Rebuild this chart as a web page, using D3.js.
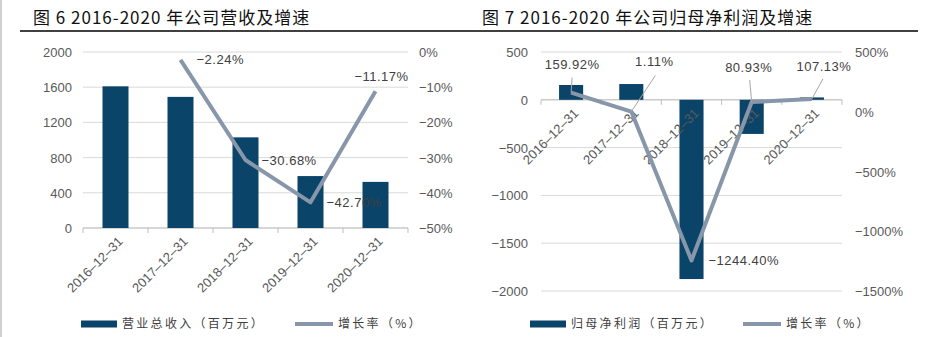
<!DOCTYPE html>
<html><head><meta charset="utf-8">
<script src="https://cdn.jsdelivr.net/npm/d3@7"></script>
<style>
body{margin:0;background:#fff;}
svg{display:block;}
.tick text{font-family:"Liberation Sans",Arial,sans-serif;}
</style></head>
<body>
<svg id="c" width="929" height="337"></svg>
<script>
// ---------- DATA ----------
const categories = ["2016-12-31","2017-12-31","2018-12-31","2019-12-31","2020-12-31"];
// Chart 1: revenue (百万元) and growth (%)
const revenue = [1610, 1490, 1030, 590, 524];
const revenueGrowth = [null, -2.24, -30.68, -42.70, -11.17];
const revLeftTicks = [0, 400, 800, 1200, 1600, 2000];
const revRightTicks = [0, -10, -20, -30, -40, -50];
// Chart 2: net profit (百万元) and growth (%)
const profit = [155, 165, -1875, -357, 25];
const profitGrowth = [159.92, 1.11, -1244.40, 80.93, 107.13];
const profLeftTicks = [500, 0, -500, -1000, -1500, -2000];
const profRightTicks = [500, 0, -500, -1000, -1500];

const titles = ["图 6 2016-2020 年公司营收及增速", "图 7 2016-2020 年公司归母净利润及增速"];
const barLegend = ["营业总收入（百万元）", "归母净利润（百万元）"];
const lineLegend = "增长率（%）";

// ---------- STYLE ----------
const BAR = "#0A4469", LINE = "#8796A9", GRID = "#D9D9D9", AXIS = "#BFBFBF", TXT = "#595959", LBL = "#404040";
const svg = d3.select("#c");
svg.append("rect").attr("width",929).attr("height",337).attr("fill","#fff");
svg.append("rect").attr("x",0).attr("y",0).attr("width",2).attr("height",337).attr("fill","#D0D0D0");
svg.append("line").attr("x1",20).attr("x2",918).attr("y1",31).attr("y2",31).attr("stroke","#000").attr("stroke-width",1.5);

function fmt(v){ return v.toFixed(2) + "%"; }

function drawChart(o){
  const g = svg.append("g");
  g.append("text").attr("x",o.titleX).attr("y",24).attr("font-family","'Noto Sans CJK SC',sans-serif")
    .attr("font-size",17).attr("letter-spacing",1).attr("fill","#111").text(o.title);

  const x = d3.scaleBand().domain(categories).range(o.xRange).paddingInner(0.6).paddingOuter(0.3);
  const yL = d3.scaleLinear().domain(o.leftDomain).range(o.yRange);
  const yR = d3.scaleLinear().domain(o.rightDomain).range(o.yRange);

  // grid
  g.append("g").selectAll("line").data(o.leftTicks).join("line")
    .attr("x1",o.xRange[0]).attr("x2",o.xRange[1])
    .attr("y1",d=>yL(d)).attr("y2",d=>yL(d)).attr("stroke",GRID).attr("stroke-width",1);

  // left axis
  const la = g.append("g").attr("transform",`translate(${o.leftLabelX},0)`)
    .call(d3.axisLeft(yL).tickValues(o.leftTicks).tickSize(0).tickPadding(0).tickFormat(d3.format("d")));
  la.select(".domain").remove();
  la.selectAll("text").attr("font-size",13).attr("fill",TXT).attr("dy","0.35em").text(d=>String(d).replace("-","−"));

  // right axis
  const ra = g.append("g").attr("transform",`translate(${o.rightLabelX},0)`)
    .call(d3.axisRight(yR).tickValues(o.rightTicks).tickSize(0).tickPadding(0).tickFormat(d=>d+"%"));
  ra.select(".domain").remove();
  ra.selectAll("text").attr("font-size",13).attr("fill",TXT).attr("dy","0.35em").text(d=>(d+"%").replace("-","−"));

  // x axis on zero line
  const y0 = yL(0);
  g.append("line").attr("x1",o.xRange[0]).attr("x2",o.xRange[1]).attr("y1",y0).attr("y2",y0).attr("stroke",AXIS);
  const bounds = [o.xRange[0]].concat(categories.map(c=>x(c)+x.bandwidth()/2+x.step()/2));
  g.append("g").selectAll("line").data(bounds).join("line")
    .attr("x1",d=>d).attr("x2",d=>d).attr("y1",y0).attr("y2",y0+5).attr("stroke",AXIS);

  // bars
  g.append("g").selectAll("rect").data(o.bars).join("rect")
    .attr("x",(d,i)=>x(categories[i])).attr("width",x.bandwidth())
    .attr("y",d=>Math.min(yL(d),y0)).attr("height",d=>Math.abs(yL(d)-y0)).attr("fill",BAR);

  // category labels (rotated)
  g.append("g").selectAll("text").data(categories).join("text")
    .attr("transform",c=>`translate(${x(c)+x.bandwidth()/2+5},${y0+11}) rotate(-45)`)
    .attr("text-anchor","end").attr("dy","0.35em")
    .attr("font-family","'Liberation Sans',Arial,sans-serif").attr("font-size",13).attr("fill",TXT)
    .text(c=>c.replace(/-/g,"–"));

  // line
  const pts = o.line.map((v,i)=>v==null?null:[x(categories[i])+x.bandwidth()/2, yR(v)]).filter(p=>p);
  g.append("path").attr("d",d3.line()(pts)).attr("fill","none").attr("stroke",LINE)
    .attr("stroke-width",4).attr("stroke-linejoin","round");

  // data labels
  o.line.forEach((v,i)=>{
    if(v==null) return;
    const px = x(categories[i])+x.bandwidth()/2, py = yR(v);
    const off = o.labelOffsets[i];
    if(off.leader){
      g.append("line").attr("x1",px+off.leader[0]).attr("y1",py+off.leader[1]).attr("x2",px).attr("y2",py)
        .attr("stroke","#A6A6A6").attr("stroke-width",1);
    }
    g.append("text").attr("x",px+off.dx).attr("y",py+off.dy).attr("dy","0.35em")
      .attr("text-anchor",off.anchor).attr("font-family","'Liberation Sans',Arial,sans-serif")
      .attr("font-size",13).attr("letter-spacing",0.5).attr("fill",LBL).text(fmt(v).replace("-","−"));
  });

  // legend
  const ly = 324;
  g.append("rect").attr("x",o.legX).attr("y",ly-3.5).attr("width",36).attr("height",7).attr("fill",BAR);
  g.append("text").attr("x",o.legX+41).attr("y",ly).attr("dy","0.35em")
    .attr("font-family","'Noto Sans CJK SC',sans-serif").attr("font-size",12).attr("letter-spacing",2.3)
    .attr("fill",LBL).text(o.barLegend);
  g.append("line").attr("x1",o.legLineX).attr("x2",o.legLineX+38).attr("y1",ly).attr("y2",ly)
    .attr("stroke",LINE).attr("stroke-width",4);
  g.append("text").attr("x",o.legLineX+43).attr("y",ly).attr("dy","0.35em")
    .attr("font-family","'Noto Sans CJK SC',sans-serif").attr("font-size",12).attr("letter-spacing",2.3)
    .attr("fill",LBL).text(lineLegend);
}

drawChart({
  title: titles[0], titleX: 33,
  xRange: [83, 408], yRange: [228, 52],
  leftDomain: [0, 2000], rightDomain: [-50, 0],
  leftTicks: revLeftTicks, rightTicks: revRightTicks,
  leftLabelX: 72, rightLabelX: 419,
  bars: revenue, line: revenueGrowth,
  labelOffsets: [null,
    {dx:16, dy:0, anchor:"start"},
    {dx:16, dy:0, anchor:"start"},
    {dx:16, dy:0, anchor:"start"},
    {dx:6, dy:-15, anchor:"middle"}],
  legX: 81, legLineX: 295, barLegend: barLegend[0]
});

drawChart({
  title: titles[1], titleX: 482,
  xRange: [541, 842], yRange: [291, 52],
  leftDomain: [-2000, 500], rightDomain: [-1500, 500],
  leftTicks: profLeftTicks, rightTicks: profRightTicks,
  leftLabelX: 528, rightLabelX: 855,
  bars: profit, line: profitGrowth,
  labelOffsets: [
    {dx:1, dy:-28, anchor:"middle", leader:[1,-15]},
    {dx:23, dy:-50, anchor:"middle", leader:[24,-36]},
    {dx:17, dy:0, anchor:"start"},
    {dx:-3, dy:-35, anchor:"middle", leader:[-2,-22]},
    {dx:12, dy:-32, anchor:"middle", leader:[11,-20]}],
  legX: 530, legLineX: 743, barLegend: barLegend[1]
});
</script>
</body></html>
